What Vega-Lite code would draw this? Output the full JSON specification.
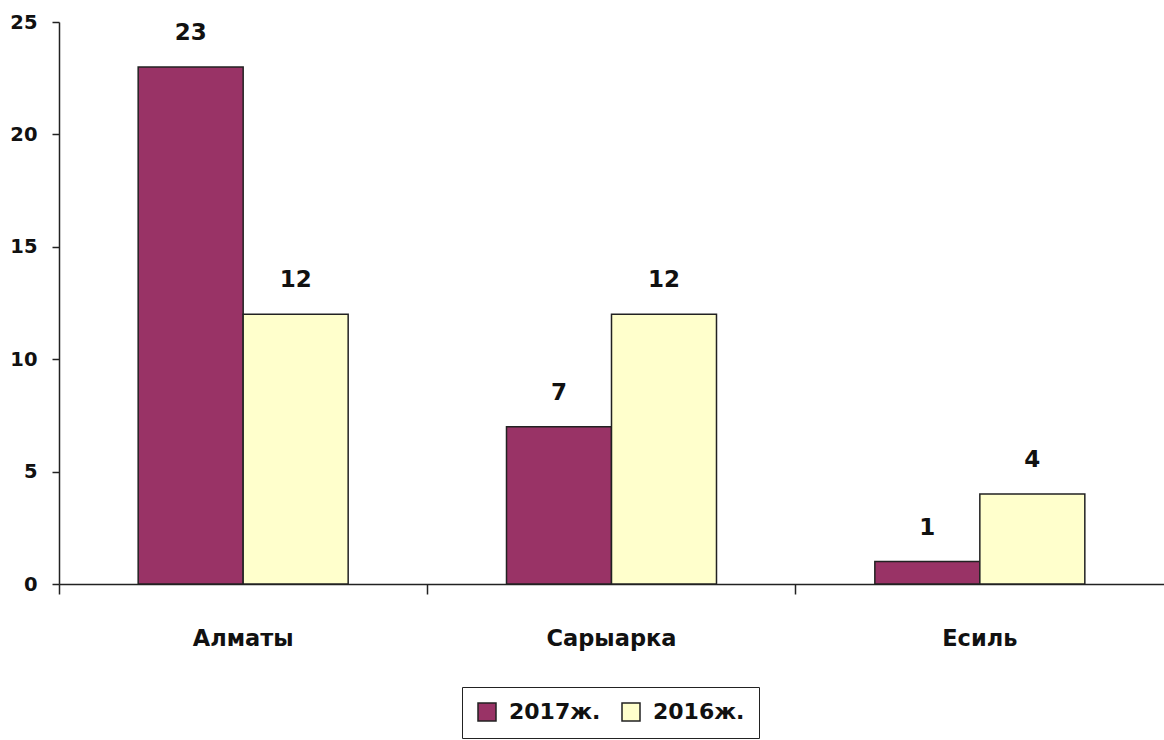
{
  "$schema": "https://vega.github.io/schema/vega-lite/v6.json",
  "autosize": {"type": "none"},
  "padding": {"left": 59, "top": 22, "right": 0, "bottom": 156},
  "width": 1105,
  "height": 562,
  "background": "white",
  "data": {"values": [
    {"region": "Алматы", "year": "2017ж.", "value": 23},
    {"region": "Алматы", "year": "2016ж.", "value": 12},
    {"region": "Сарыарка", "year": "2017ж.", "value": 7},
    {"region": "Сарыарка", "year": "2016ж.", "value": 12},
    {"region": "Есиль", "year": "2017ж.", "value": 1},
    {"region": "Есиль", "year": "2016ж.", "value": 4}
  ]},
  "config": {
    "view": {"stroke": null},
    "font": "DejaVu Sans",
    "axis": {"domainColor": "#222", "tickColor": "#222", "labelColor": "#111", "labelFont": "DejaVu Sans", "labelFontWeight": "bold", "grid": false, "title": null, "domainWidth": 1.5, "tickWidth": 1.5}
  },
  "encoding": {
    "x": {"field": "region", "type": "nominal", "sort": ["Алматы", "Сарыарка", "Есиль"],
      "scale": {"paddingInner": 0, "paddingOuter": 0},
      "axis": {"labelAngle": 0, "bandPosition": 0, "tickSize": 10, "labelPadding": 33, "labelFontSize": 22.5, "labelBaseline": "top"}},
    "xOffset": {"field": "year", "type": "nominal", "sort": ["2017ж.", "2016ж."], "scale": {"paddingInner": 0, "paddingOuter": 0.754}},
    "y": {"field": "value", "type": "quantitative",
      "scale": {"domain": [0, 25], "nice": false},
      "axis": {"values": [0, 5, 10, 15, 20, 25], "tickSize": 7, "labelPadding": 15, "labelFontSize": 19.5}}
  },
  "layer": [
    {
      "mark": {"type": "bar", "stroke": "#222", "strokeWidth": 1.5},
      "encoding": {
        "color": {"field": "year", "type": "nominal", "sort": ["2017ж.", "2016ж."],
          "scale": {"domain": ["2017ж.", "2016ж."], "range": ["#993366", "#FFFFCC"]},
          "legend": {"title": null, "orient": "none", "direction": "horizontal", "legendX": 403, "legendY": 665,
            "strokeColor": "#222", "padding": 14, "symbolType": "square", "symbolSize": 324, "symbolStrokeColor": "#222", "symbolStrokeWidth": 1.5,
            "labelFontSize": 22, "labelFontWeight": "bold", "labelColor": "#111", "labelFont": "DejaVu Sans", "columnPadding": 18, "labelOffset": 11}}
      }
    },
    {
      "mark": {"type": "text", "dy": -27, "fontSize": 23, "fontWeight": "bold", "color": "#111", "baseline": "alphabetic"},
      "encoding": {"text": {"field": "value", "type": "quantitative"}}
    }
  ]
}
